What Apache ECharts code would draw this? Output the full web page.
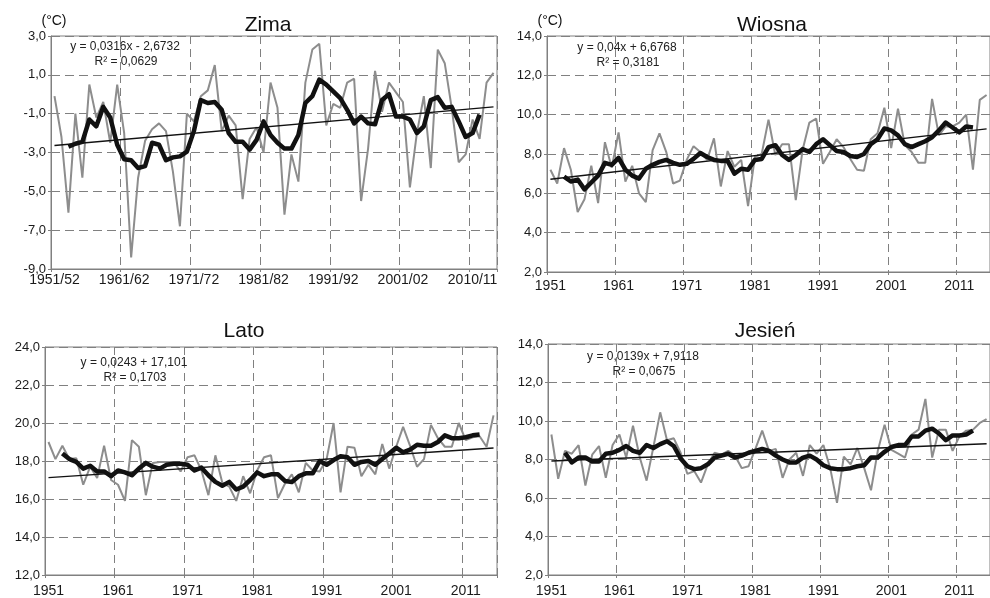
<!DOCTYPE html>
<html>
<head>
<meta charset="utf-8">
<title>Temperatura powietrza - pory roku</title>
<script src="https://cdn.jsdelivr.net/npm/echarts@6/dist/echarts.min.js"></script>
<style>
  html, body { margin: 0; padding: 0; background: #fff; }
  #chart { width: 990px; height: 598px; }
</style>
</head>
<body>
<div id="chart"></div>
<script>
// ---- dane ----
var zimaTicks = ['1951/52', '1961/62', '1971/72', '1981/82', '1991/92', '2001/02', '2010/11'];
var yearTicks = ['1951', '1961', '1971', '1981', '1991', '2001', '2011'];

var zimaGray = [-0.1, -2.2, -6.1, -1.0, -4.3, 0.5, -1.2, -0.4, -2.5, 0.5,
  -2.0, -8.4, -4.3, -2.4, -1.8, -1.5, -1.9, -4.0, -6.8, -1.0,
  -1.4, -0.1, 0.2, 1.5, -1.9, -1.1, -1.6, -5.4, -2.3, -1.7,
  -3.0, 0.6, -0.7, -6.2, -3.1, -4.5, 0.6, 2.3, 2.6, -1.6,
  -0.5, -0.7, 0.6, 0.8, -5.5, -2.8, 1.2, -0.9, 0.6, 0.1,
  -0.4, -4.8, -2.0, -0.1, -3.8, 2.3, 1.6, -0.7, -3.5, -3.1,
  -1.3, -2.3, 0.6, 1.1];
// srednia ruchoma, od 3. roku
var zimaAvg = [-2.7, -2.55, -2.45, -1.3, -1.65, -0.65, -1.2, -2.6, -3.35, -3.4,
  -3.8, -3.7, -2.5, -2.6, -3.4, -3.25, -3.2, -2.95, -1.9, -0.3,
  -0.45, -0.4, -0.8, -2.0, -2.45, -2.45, -2.85, -2.35, -1.4, -2.1,
  -2.5, -2.8, -2.8, -2.1, -0.45, -0.1, 0.75, 0.5, 0.15, -0.2,
  -0.8, -1.5, -1.15, -1.5, -1.55, -0.3, 0.0, -1.15, -1.15, -1.3,
  -2.0, -1.65, -0.3, -0.15, -0.7, -0.65, -1.4, -2.2, -2.0, -1.05];
var zimaFit = [0.0316, -2.6732];

var wiosnaGray = [7.2, 6.5, 8.3, 7.2, 5.05, 5.7, 7.4, 5.5, 8.6, 7.3,
  9.1, 6.6, 7.4, 6.0, 5.55, 8.2, 9.05, 8.1, 6.5, 6.65,
  7.7, 8.4, 8.1, 7.7, 8.8, 6.35, 8.15, 7.35, 7.7, 5.35,
  7.85, 8.0, 9.75, 7.95, 8.5, 8.5, 5.65, 8.2, 9.6, 9.8,
  7.5, 8.1, 8.75, 8.35, 7.75, 7.2, 7.15, 8.75, 9.05, 10.35,
  8.3, 10.3, 8.45, 8.1, 7.55, 7.55, 10.8, 8.95, 9.4, 9.4,
  9.6, 10.0, 7.2, 10.75, 11.0];
var wiosnaAvg = [6.85, 6.6, 6.7, 6.2, 6.55, 6.9, 7.55, 7.45, 7.8, 7.2,
  6.9, 6.75, 7.25, 7.45, 7.6, 7.7, 7.55, 7.45, 7.5, 7.75,
  8.05, 7.85, 7.7, 7.65, 7.65, 7.0, 7.25, 7.2, 7.7, 7.75,
  8.35, 8.45, 7.95, 7.7, 7.95, 8.25, 8.1, 8.5, 8.75, 8.45,
  8.15, 8.1, 7.9, 7.85, 8.0, 8.5, 8.75, 9.3, 9.2, 8.95,
  8.5, 8.35, 8.5, 8.65, 8.85, 9.2, 9.6, 9.35, 9.1, 9.4, 9.35];
var wiosnaFit = [0.04, 6.6768];

var latoGray = [19.0, 18.1, 18.8, 18.1, 18.15, 16.75, 17.7, 17.1, 18.8, 17.0,
  16.75, 15.9, 19.1, 18.75, 16.2, 17.9, 17.95, 17.95, 17.95, 17.45,
  18.2, 18.3, 17.5, 16.2, 18.3, 16.85, 16.65, 15.9, 17.2, 16.3,
  17.5, 18.2, 18.3, 16.05, 16.8, 17.3, 16.35, 17.9, 17.5, 17.45,
  18.1, 20.0, 16.35, 18.75, 18.7, 17.2, 17.8, 17.3, 18.9, 17.6,
  18.75, 19.8, 18.8, 17.7, 18.1, 19.9, 19.2, 18.75, 18.75, 20.0,
  19.1, 19.25, 19.3, 18.75, 20.4];
var latoAvg = [18.4, 18.1, 17.95, 17.6, 17.75, 17.45, 17.45, 17.2, 17.5, 17.4,
  17.25, 17.6, 17.9, 17.7, 17.6, 17.8, 17.85, 17.85, 17.8, 17.5,
  17.65, 17.25, 16.9, 16.7, 16.9, 16.5, 16.65, 17.0, 17.4, 17.2,
  17.3, 17.3, 16.95, 16.9, 17.2, 17.35, 17.35, 18.0, 17.8, 18.05,
  18.25, 18.2, 17.8, 17.95, 18.0, 17.8, 18.1, 18.4, 18.7, 18.45,
  18.6, 18.85, 18.8, 18.8, 19.0, 19.35, 19.2, 19.2, 19.25, 19.35, 19.4];
var latoFit = [0.0243, 17.101];

var jesienGray = [9.3, 7.0, 8.45, 8.3, 8.75, 6.65, 8.25, 8.7, 7.05, 8.75,
  9.3, 8.1, 9.75, 8.1, 6.9, 8.65, 10.45, 9.0, 9.1, 8.35,
  7.25, 7.4, 6.8, 7.75, 8.35, 8.25, 8.45, 8.2, 7.55, 7.65,
  8.55, 9.5, 8.45, 8.55, 7.05, 8.0, 8.35, 7.15, 8.75, 8.3,
  8.75, 7.55, 5.75, 8.15, 7.75, 8.6, 7.55, 6.4, 8.45, 9.8,
  8.5, 8.3, 8.1, 9.3, 9.55, 11.15, 8.1, 9.55, 9.55, 8.45,
  9.2, 9.5, 9.55, 9.9, 10.1];
var jesienAvg = [8.35, 7.85, 8.1, 8.1, 7.9, 7.9, 8.3, 8.35, 8.5, 8.7,
  8.45, 8.35, 8.75, 8.6, 8.8, 8.95, 8.7, 8.05, 7.65, 7.5,
  7.55, 7.75, 8.1, 8.2, 8.3, 8.1, 8.2, 8.35, 8.45, 8.55,
  8.45, 8.2, 8.0, 7.85, 7.85, 8.1, 8.2, 8.0, 7.7, 7.55,
  7.5, 7.5, 7.55, 7.65, 7.7, 8.1, 8.1, 8.4, 8.65, 8.75,
  8.75, 9.2, 9.2, 9.5, 9.6, 9.35, 9.0, 9.25, 9.25, 9.3, 9.5];
var jesienFit = [0.0139, 7.9118];

var FONT = '"Liberation Sans", Arial, sans-serif';
var GRID_COLOR = '#808080';

// uklad paneli
var panels = [
  {title: 'Zima', gray: zimaGray, avg: zimaAvg, fit: zimaFit, eq: ['y = 0,0316x - 2,6732', 'R² = 0,0629'],
   season: true, ticks: zimaTicks, min: -9, max: 3, unit: true,
   grid: {left: 51, top: 36, width: 446, height: 233}, labelMargin: 4,
   titlePos: [268, 15], eqPos: [125, 47]},
  {title: 'Wiosna', gray: wiosnaGray, avg: wiosnaAvg, fit: wiosnaFit, eq: ['y = 0,04x + 6,6768', 'R² = 0,3181'],
   ticks: yearTicks, min: 2, max: 14, unit: true,
   grid: {left: 547, top: 36, width: 452, height: 236}, labelMargin: 7,
   titlePos: [772, 15], eqPos: [627, 48]},
  {title: 'Lato', gray: latoGray, avg: latoAvg, fit: latoFit, eq: ['y = 0,0243 + 17,101', 'R² = 0,1703'],
   ticks: yearTicks, min: 12, max: 24,
   grid: {left: 45, top: 347, width: 452, height: 231}, labelMargin: 9,
   titlePos: [244, 321], eqPos: [134, 363]},
  {title: 'Jesień', gray: jesienGray, avg: jesienAvg, fit: jesienFit, eq: ['y = 0,0139x + 7,9118', 'R² = 0,0675'],
   ticks: yearTicks, min: 2, max: 14,
   grid: {left: 548, top: 344, width: 452, height: 235}, labelMargin: 9,
   titlePos: [765, 321], eqPos: [643, 357]}
];

var grids = [], xAxes = [], yAxes = [], series = [], graphics = [];

panels.forEach(function (p, k) {
  var n = p.gray.length;
  var cats = [];
  for (var i = 0; i < n; i++) {
    var y = 1951 + i;
    cats.push(p.season ? y + '/' + String(y + 1).slice(2) : String(y));
  }
  var avgData = [];
  for (var j = 0; j < n; j++) {
    var v = p.avg[j - 2];
    avgData.push(v === undefined ? null : v);
  }
  // linia trendu z rownania (x = 1..n)
  var trend = [[0, p.fit[0] * 1 + p.fit[1]], [n - 1, p.fit[0] * n + p.fit[1]]];

  grids.push(Object.assign({show: true, borderColor: GRID_COLOR, borderWidth: 1, backgroundColor: '#fff'}, p.grid));

  xAxes.push({
    type: 'category', gridIndex: k, data: cats, boundaryGap: true,
    axisLine: {show: true, onZero: false, lineStyle: {color: GRID_COLOR}},
    axisTick: {show: true, interval: 9, length: 3, lineStyle: {color: GRID_COLOR}},
    axisLabel: {
      interval: 9, margin: p.labelMargin, fontSize: 14, color: '#1a1a1a', fontFamily: FONT,
      formatter: function (val) {
        var idx = cats.indexOf(val);
        return p.ticks[idx / 10] || '';
      }
    },
    splitLine: {show: true, interval: 9, lineStyle: {color: GRID_COLOR, width: 1, type: [8, 5]}}
  });

  yAxes.push({
    type: 'value', gridIndex: k, min: p.min, max: p.max, interval: 2,
    axisLine: {show: true, lineStyle: {color: GRID_COLOR}},
    axisTick: {show: true, length: 3, lineStyle: {color: GRID_COLOR}},
    axisLabel: {
      fontSize: 13, color: '#1a1a1a', fontFamily: FONT, margin: 5,
      formatter: function (v) { return v.toFixed(1).replace('.', ','); }
    },
    splitLine: {show: true, lineStyle: {color: GRID_COLOR, width: 1, type: [9, 5]}}
  });

  series.push({
    type: 'line', xAxisIndex: k, yAxisIndex: k, data: p.gray, symbol: 'none',
    lineStyle: {color: '#8d8d8d', width: 2}, z: 2
  });
  series.push({
    type: 'line', xAxisIndex: k, yAxisIndex: k, data: trend, symbol: 'none',
    lineStyle: {color: '#111', width: 1.4}, z: 3
  });
  series.push({
    type: 'line', xAxisIndex: k, yAxisIndex: k, data: avgData, symbol: 'none',
    lineStyle: {color: '#111', width: 4.5, join: 'round'}, z: 4
  });

  // tytuly paneli i rownania
  graphics.push({type: 'text', x: p.titlePos[0], y: p.titlePos[1], z: 10,
    style: {text: p.title, font: '21px ' + FONT, fill: '#111', align: 'center', textAlign: 'center',
      verticalAlign: 'top', textVerticalAlign: 'top'}});
  graphics.push({type: 'text', x: p.eqPos[0], y: p.eqPos[1], z: 10,
    style: {text: p.eq[0], font: '12px ' + FONT, fill: '#222', align: 'center', textAlign: 'center',
      verticalAlign: 'middle', textVerticalAlign: 'middle'}});
  graphics.push({type: 'text', x: p.eqPos[0] + 1, y: p.eqPos[1] + 15, z: 10,
    style: {text: p.eq[1], font: '12px ' + FONT, fill: '#222', align: 'center', textAlign: 'center',
      verticalAlign: 'middle', textVerticalAlign: 'middle'}});
  if (p.unit) {
    graphics.push({type: 'text', x: p.grid.left + 3, y: 21, z: 10,
      style: {text: '(°C)', font: '14px ' + FONT, fill: '#111', align: 'center', textAlign: 'center',
        verticalAlign: 'middle', textVerticalAlign: 'middle'}});
  }
});

var chart = echarts.init(document.getElementById('chart'), null, {renderer: 'canvas'});
chart.setOption({
  backgroundColor: '#fff',
  animation: false,
  grid: grids,
  xAxis: xAxes,
  yAxis: yAxes,
  series: series,
  graphic: graphics
});
window.addEventListener('resize', function () { chart.resize(); });
</script>
</body>
</html>
